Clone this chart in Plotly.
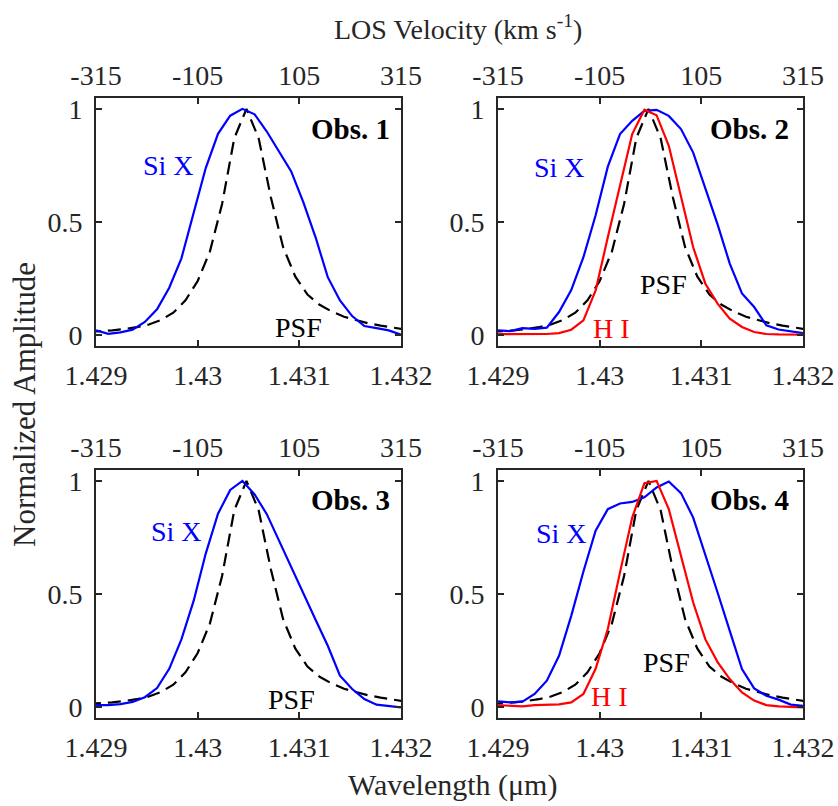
import plotly.graph_objects as go

# ---------------- data ----------------
wl_obs = [1.42900, 1.42912, 1.42924, 1.42936, 1.42948, 1.42960, 1.42972, 1.42984,
          1.42996, 1.43008, 1.43020, 1.43032, 1.43044, 1.43056, 1.43068, 1.43080,
          1.43092, 1.43104, 1.43116, 1.43128, 1.43140, 1.43152, 1.43164, 1.43176,
          1.43188, 1.43200]
wl_psf = [1.42892, 1.42904, 1.42916, 1.42928, 1.42940, 1.42952, 1.42964, 1.42976,
          1.42988, 1.43000, 1.43012, 1.43024, 1.43036, 1.43048, 1.43060, 1.43072,
          1.43084, 1.43096, 1.43108, 1.43120, 1.43132, 1.43144, 1.43156, 1.43168,
          1.43180, 1.43192, 1.43204]

psf = [0.015, 0.018, 0.022, 0.028, 0.036, 0.048, 0.068, 0.1, 0.155, 0.24, 0.37,
       0.58, 0.87, 1.0, 0.87, 0.61, 0.39, 0.26, 0.18, 0.135, 0.105, 0.082, 0.066,
       0.053, 0.043, 0.034, 0.026]

six_obs1 = [0.022, 0.007, 0.013, 0.025, 0.059, 0.115, 0.21, 0.34, 0.54, 0.74, 0.89,
            0.97, 1.0, 0.976, 0.90, 0.815, 0.724, 0.587, 0.433, 0.257, 0.154, 0.085,
            0.041, 0.032, 0.022, 0.003]
six_obs2 = [0.022, 0.019, 0.032, 0.029, 0.034, 0.103, 0.20, 0.345, 0.53, 0.745, 0.889,
            0.947, 0.991, 0.996, 0.969, 0.911, 0.807, 0.653, 0.49, 0.317, 0.185, 0.125,
            0.044, 0.026, 0.019, 0.01]
six_obs3 = [0.01, 0.01, 0.014, 0.024, 0.045, 0.085, 0.17, 0.30, 0.47, 0.68, 0.855,
            0.96, 1.0, 0.94, 0.853, 0.735, 0.618, 0.504, 0.387, 0.272, 0.14, 0.081,
            0.037, 0.012, 0.007, 0.0]
six_obs4 = [0.026, 0.022, 0.025, 0.059, 0.118, 0.228, 0.404, 0.60, 0.78, 0.875, 0.90,
            0.907, 0.927, 0.971, 0.997, 0.946, 0.838, 0.676, 0.507, 0.338, 0.169, 0.084,
            0.051, 0.034, 0.012, 0.007]
hi_obs2 = [0.005, 0.005, 0.005, 0.005, 0.006, 0.01, 0.025, 0.066, 0.198, 0.433, 0.668,
           0.889, 0.996, 0.972, 0.837, 0.609, 0.389, 0.228, 0.14, 0.074, 0.037, 0.015,
           0.006, 0.004, 0.003, 0.003]
hi_obs4 = [0.01, 0.007, 0.004, 0.01, 0.012, 0.013, 0.022, 0.059, 0.17, 0.346, 0.596,
           0.838, 0.99, 1.0, 0.875, 0.669, 0.463, 0.30, 0.2, 0.125, 0.066, 0.03, 0.01,
           0.004, 0.002, 0.0]

obs_labels = ["Obs. 1", "Obs. 2", "Obs. 3", "Obs. 4"]
wl_ticks = [1.429, 1.430, 1.431, 1.432]
wl_ticktext = ["1.429", "1.43", "1.431", "1.432"]
vel_ticks = [-315, -105, 105, 315]
vel_ticktext = ["-315", "-105", "105", "315"]
y_ticks = [0, 0.5, 1]
y_ticktext = ["0", "0.5", "1"]

# ---------------- styling ----------------
W, H = 838, 806
AX = "#262626"
SERIF = "Liberation Serif"
tickfont = dict(family=SERIF, size=28, color=AX)
BLUE, RED = "#0000FF", "#FF0000"

def px_dom_x(a, b):
    return [a / W, b / W]

def px_dom_y(top, bottom):
    return [1 - bottom / H, 1 - top / H]

xdom = [px_dom_x(96, 401), px_dom_x(498, 803), px_dom_x(96, 401), px_dom_x(498, 803)]
ydom = [px_dom_y(98, 346), px_dom_y(98, 346), px_dom_y(470, 718), px_dom_y(470, 718)]

panels = [
    dict(six=six_obs1, hi=None),
    dict(six=six_obs2, hi=hi_obs2),
    dict(six=six_obs3, hi=None),
    dict(six=six_obs4, hi=hi_obs4),
]

# annotation positions (data coords of each panel)
ann_pos = [
    dict(six=(1.42971, 0.75), psf=(1.43099, 0.035), hi=None, obs=(1.43150, 0.912)),
    dict(six=(1.42960, 0.74), psf=(1.43063, 0.225), hi=(1.43012, 0.031), obs=(1.43147, 0.912)),
    dict(six=(1.42979, 0.778), psf=(1.43092, 0.035), hi=None, obs=(1.43150, 0.915)),
    dict(six=(1.42962, 0.769), psf=(1.43066, 0.199), hi=(1.43010, 0.049), obs=(1.43147, 0.915)),
]

fig = go.Figure()
layout = dict(
    width=W, height=H,
    margin=dict(l=0, r=0, t=0, b=0, autoexpand=False),
    paper_bgcolor="white", plot_bgcolor="white",
    showlegend=False,
)
annotations = []

for i, p in enumerate(panels):
    n = i + 1
    xs = "x" if n == 1 else f"x{n}"
    ys = "y" if n == 1 else f"y{n}"
    xt = f"x{n + 4}"
    # PSF dashed
    fig.add_trace(go.Scatter(x=wl_psf, y=psf, xaxis=xs, yaxis=ys, mode="lines",
                             line=dict(color="black", width=2.2, dash="13px,7px"),
                             hoverinfo="skip"))
    fig.add_trace(go.Scatter(x=wl_obs, y=p["six"], xaxis=xs, yaxis=ys, mode="lines",
                             line=dict(color=BLUE, width=2.2), hoverinfo="skip"))
    if p["hi"] is not None:
        fig.add_trace(go.Scatter(x=wl_obs, y=p["hi"], xaxis=xs, yaxis=ys, mode="lines",
                                 line=dict(color=RED, width=2.2), hoverinfo="skip"))
    # dummy trace for top velocity axis
    fig.add_trace(go.Scatter(x=[vel_ticks[0], vel_ticks[-1]], y=[None, None],
                             xaxis=xt, yaxis=ys, mode="lines", hoverinfo="skip"))

    common = dict(showline=True, linecolor=AX, linewidth=2, ticks="inside",
                  ticklen=6, tickwidth=1.5, tickcolor=AX, showgrid=False,
                  zeroline=False, tickfont=tickfont, automargin=False)
    layout[f"xaxis{n}"] = dict(domain=xdom[i], anchor=ys, range=[1.4289995, 1.4320005],
                               tickmode="array", tickvals=wl_ticks, ticktext=wl_ticktext,
                               mirror="ticks", ticklabelstandoff=3, **common)
    layout[f"yaxis{n}"] = dict(domain=ydom[i], anchor=xs, range=[-0.047, 1.048],
                               tickmode="array", tickvals=y_ticks, ticktext=y_ticktext,
                               mirror="ticks", ticklabelstandoff=6, **common)
    layout[f"xaxis{n + 4}"] = dict(overlaying=xs, anchor=ys, side="top",
                                   range=[-315.05, 315.05], tickmode="array",
                                   tickvals=vel_ticks, ticktext=vel_ticktext,
                                   ticklabelstandoff=0, **common)

    a = ann_pos[i]
    annotations.append(dict(x=a["six"][0], y=a["six"][1], xref=xs, yref=ys, text="Si X",
                            showarrow=False, font=dict(family=SERIF, size=28, color=BLUE)))
    annotations.append(dict(x=a["psf"][0], y=a["psf"][1], xref=xs, yref=ys, text="PSF",
                            showarrow=False, font=dict(family=SERIF, size=28, color="black")))
    if a["hi"] is not None:
        annotations.append(dict(x=a["hi"][0], y=a["hi"][1], xref=xs, yref=ys, text="H I",
                                showarrow=False, font=dict(family=SERIF, size=28, color=RED)))
    annotations.append(dict(x=a["obs"][0], y=a["obs"][1], xref=xs, yref=ys,
                            text="<b>" + obs_labels[i] + "</b>", showarrow=False,
                            font=dict(family=SERIF, size=29, color="black")))

annotations.append(dict(x=458 / W, y=1 - 27 / H, xref="paper", yref="paper",
                        xanchor="center", yanchor="middle",
                        text="LOS Velocity (km s<sup>-1</sup>)", showarrow=False,
                        font=dict(family=SERIF, size=28, color=AX)))
annotations.append(dict(x=453 / W, y=1 - 785 / H, xref="paper", yref="paper",
                        xanchor="center", yanchor="middle",
                        text="Wavelength (μm)", showarrow=False,
                        font=dict(family=SERIF, size=30, color=AX)))
annotations.append(dict(x=24 / W, y=1 - 405 / H, xref="paper", yref="paper",
                        xanchor="center", yanchor="middle",
                        text="Normalized Amplitude", showarrow=False, textangle=-90,
                        font=dict(family=SERIF, size=31, color=AX)))

layout["annotations"] = annotations
fig.update_layout(**layout)
fig.write_html("out.html")
